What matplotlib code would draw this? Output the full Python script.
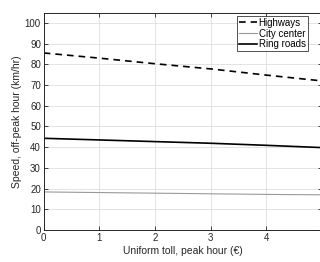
import numpy as np
import matplotlib.pyplot as plt

plt.rcParams["font.family"] = ["Liberation Sans", "DejaVu Sans"]

## Data
toll = [0, 1, 2, 3, 4, 5]
highways = [85.5, 83.0, 80.3, 77.8, 74.8, 72.0]
city_center = [18.4, 18.1, 17.8, 17.5, 17.2, 17.0]
ring_roads = [44.3, 43.5, 42.7, 41.9, 40.9, 39.8]

## Figure
fig = plt.figure(figsize=(3.2, 2.62), dpi=100)
ax = fig.add_axes([0.1366, 0.122, 0.87, 0.83])

ax.plot(toll, highways, "k--", lw=1.2, dashes=(4, 3), label="Highways")
ax.plot(toll, city_center, color="0.6", lw=0.8, label="City center")
ax.plot(toll, ring_roads, "k-", lw=1.2, label="Ring roads")

ax.set_xlim(0, 5)
ax.set_ylim(0, 105)
ax.set_xticks(range(0, 6))
ax.set_yticks(range(0, 101, 10))
ax.grid(True, color="0.87", lw=0.6)
ax.set_axisbelow(True)
ax.tick_params(direction="in", top=True, right=True, labelsize=7,
               length=3, width=0.6, colors="0.15", pad=2)
for s in ax.spines.values():
    s.set_color("0.15")
    s.set_linewidth(0.7)

ax.set_xlabel("Uniform toll, peak hour (€)", fontsize=7.5, color="0.15", labelpad=2)
ax.set_ylabel("Speed, off-peak hour (km/hr)", fontsize=7.5, color="0.15", labelpad=2)

leg = ax.legend(loc="upper right", bbox_to_anchor=(0.955, 0.995), fontsize=7,
                frameon=True, fancybox=False, borderpad=0.2, labelspacing=0.1,
                handlelength=1.8, handletextpad=0.2, borderaxespad=0.2)
leg.get_frame().set_edgecolor("0.15")
leg.get_frame().set_linewidth(0.7)

fig.savefig("out.png", dpi=100)
